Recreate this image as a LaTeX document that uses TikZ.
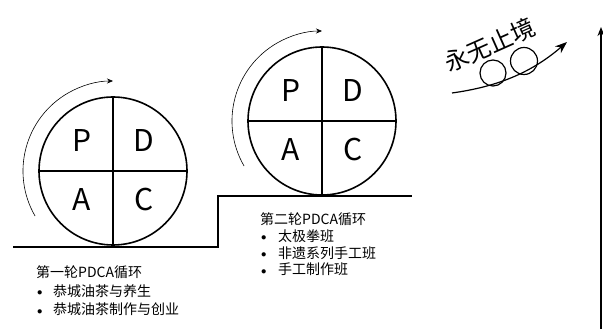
\documentclass[tikz,border=0pt]{standalone}
\usepackage{fontspec}
\newfontfamily\cjk{Noto Sans CJK SC}
\usetikzlibrary{arrows.meta,calc,positioning}
\tikzset{
  pdca/.style={circle,draw,line width=1.6pt,minimum size=148pt,inner sep=0pt},
  quad/.style={font=\cjk\fontsize{30}{30}\selectfont,inner sep=0pt},
  turn/.style={-{Stealth[length=6pt,width=5pt]},line width=0.6pt},
  thick line/.style={line width=1.6pt},
  stage/.style={font=\cjk\fontsize{14}{#1}\selectfont,align=left,anchor=base west,inner sep=0pt}
}
\newcommand{\bul}[1]{\makebox[#1][l]{\hspace{1pt}\raisebox{0.6pt}{\scalebox{0.75}{$\bullet$}}}}

\begin{document}
\begin{tikzpicture}[x=1pt,y=1pt]
\useasboundingbox (0,0) rectangle (603,329);
\node[pdca] (c1) at (113,158) {};
\node[pdca] (c2) at (322,208) {};
\foreach \c in {c1,c2}{
  \draw[thick line] (\c.north) -- (\c.south);
  \draw[thick line] (\c.west) -- (\c.east);
  \node[quad] (\c p) at ($(\c)+(-31,30)$) {P};
  \node[quad] (\c d) at ($(\c)+(31,30)$) {D};
  \node[quad] (\c a) at ($(\c)+(-31,-29)$) {A};
  \node[quad] (\c c) at ($(\c)+(31,-29)$) {C};
  \draw[turn] ([shift={(210:90)}]\c.center) arc[start angle=210,end angle=90,radius=90];
}
\draw[thick line] (13,82) -- (218,82) |- (412,133);
\node[stage=18.5] (round1) at (36,14) {第一轮PDCA循环\\\bul{17pt}恭城油茶与养生\\\bul{17pt}恭城油茶制作与创业};
\node[stage=16.8] (round2) at (260,54) {第二轮PDCA循环\\\bul{18pt}太极拳班\\\bul{18pt}非遗系列手工班\\\bul{18pt}手工制作班};
\draw[-{Stealth[length=9pt,width=7pt]},thick line] (601,0) -- (601,302);
\draw[-{Stealth[length=12pt,width=9pt]},line width=1.2pt] (452,236) .. controls (495,242) and (530,255) .. (567,287);
\draw[line width=1.2pt] (493,256) circle[radius=13];
\draw[line width=1.2pt] (524,268) circle[radius=13.5];
\node[rotate=24,font=\cjk\fontsize{24}{24}\selectfont,inner sep=0pt] (motto) at (490,284) {永无止境};
\end{tikzpicture}
\end{document}
